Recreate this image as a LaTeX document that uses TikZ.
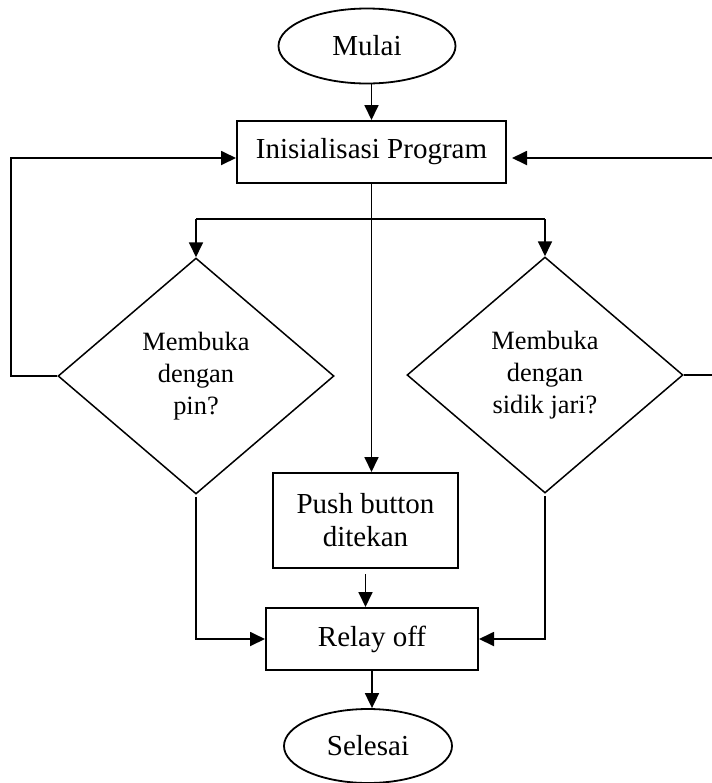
\documentclass[tikz,border=0pt]{standalone}
\usepackage{fontspec}
\setmainfont{Liberation Serif}
\usetikzlibrary{shapes.geometric,arrows.meta}

\begin{document}
\begin{tikzpicture}[x=0.5pt,y=-0.5pt,line width=0.9pt,
  procbox/.style={draw,rectangle,inner sep=0pt,align=center,line width=1pt,font=\fontsize{14.5}{16.5}\selectfont},
  terminal/.style={draw,ellipse,inner sep=0pt,font=\fontsize{14.5}{16.5}\selectfont},
  decision/.style={draw,diamond,inner sep=0pt,align=center,minimum width=138pt,minimum height=118pt,line width=0.75pt,font=\fontsize{13.2}{16}\selectfont},
  flow/.style={-{Triangle[length=7.5pt,width=7pt]}}]
  \useasboundingbox (0,0) rectangle (712,783);
  % nodes
  \node[terminal,minimum width=88.5pt,minimum height=37.5pt] (mulai) at (367,46) {Mulai};
  \node[procbox,minimum width=134.5pt,minimum height=31pt] (init) at (371.5,152) {Inisialisasi Program};
  \node[decision] (pin) at (196,376) {Membuka\\dengan\\pin?};
  \node[decision] (jari) at (545,375) {Membuka\\dengan\\sidik jari?};
  \node[procbox,minimum width=92.5pt,minimum height=47.5pt] (push) at (365.5,520.5) {Push button\\ditekan};
  \node[procbox,minimum width=106pt,minimum height=31pt] (relay) at (372,639) {Relay off};
  \node[terminal,minimum width=84pt,minimum height=37pt] (selesai) at (368,746) {Selesai};
  \coordinate (split) at (372,219);
  % connectors
  \draw[flow] (init.north |- mulai.south) -- (init.north);
  \draw[flow] (init.south) -- (init.south |- push.north);
  \draw (pin.north |- split) -- (jari.north |- split);
  \foreach \d in {pin,jari}{\draw[flow] (\d.north |- split) -- (\d.north);}
  \draw[flow] (pin.west) -- ++(-46,0) |- ([yshift=-3pt]init.west);
  \draw[flow] (jari.east) -- ++(33,0) |- ([yshift=-3pt,xshift=2.5pt]init.east);
  \draw[flow] ([yshift=-1pt]pin.south) |- (relay.west);
  \draw[flow] ([yshift=-1pt]jari.south) |- (relay.east);
  \draw[flow] ([yshift=-2.5pt]push.south) -- (push.south |- relay.north);
  \draw[flow] (relay.south) -- (relay.south |- selesai.north);
\end{tikzpicture}
\end{document}
